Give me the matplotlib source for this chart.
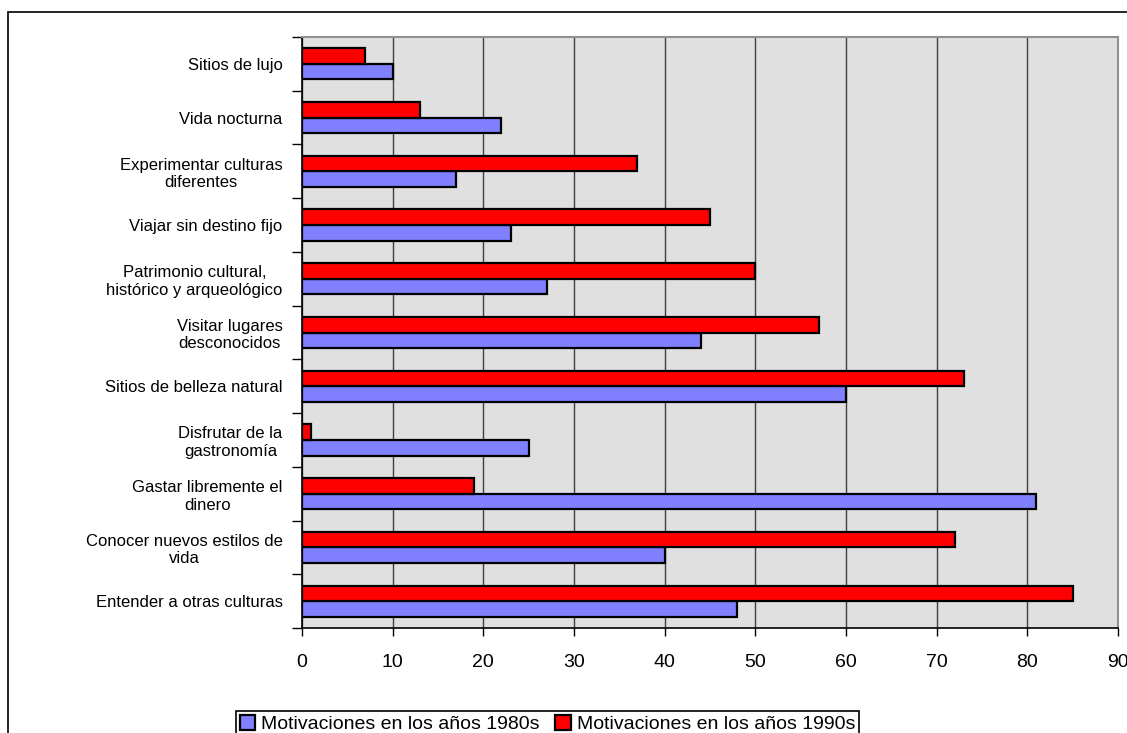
import numpy as np
import matplotlib
matplotlib.use('Agg')
import matplotlib.pyplot as plt
from matplotlib.patches import Rectangle

# categories listed bottom to top
categorias = [
    'Entender a otras culturas',
    'Conocer nuevos estilos de\nvida',
    'Gastar libremente el\ndinero',
    'Disfrutar de la\ngastronomía',
    'Sitios de belleza natural',
    'Visitar lugares\ndesconocidos',
    'Patrimonio cultural,\nhistórico y arqueológico',
    'Viajar sin destino fijo',
    'Experimentar culturas\ndiferentes',
    'Vida nocturna',
    'Sitios de lujo',
]
anos_1980 = [48, 40, 81, 25, 60, 44, 27, 23, 17, 22, 10]
anos_1990 = [85, 72, 19, 1, 73, 57, 50, 45, 37, 13, 7]
xticks = [0, 10, 20, 30, 40, 50, 60, 70, 80, 90]

plt.rcParams['font.family'] = ['Liberation Sans', 'DejaVu Sans']

W, H = 1127, 733
fig = plt.figure(figsize=(W / 100, H / 100), dpi=100)
ax = fig.add_axes([302 / W, 1 - 628 / H, 816 / W, 591 / H])

# outer chart frame, running off the right and bottom edges
fig.patches.append(Rectangle((8 / W, -0.1), 1.2, 1 - 12 / H + 0.1,
                             transform=fig.transFigure, fill=False,
                             edgecolor='black', linewidth=1.2))

y = np.arange(len(categorias))
h = 0.29
ax.barh(y - h / 2, anos_1980, height=h, color='#8080FF', edgecolor='black',
        linewidth=1.6, label='Motivaciones en los años 1980s', zorder=3)
ax.barh(y + h / 2, anos_1990, height=h, color='#FF0000', edgecolor='black',
        linewidth=1.6, label='Motivaciones en los años 1990s', zorder=3)

ax.set_facecolor('#E0E0E0')
ax.set_xlim(0, 90)
ax.set_ylim(-0.5, len(categorias) - 0.5)
ax.set_xticks(xticks)
ax.set_xticklabels([str(t) for t in xticks], fontsize=14)
ax.grid(axis='x', color='#404040', linewidth=1.0, zorder=1)

ax.set_yticks(y)
ax.set_yticklabels(categorias, fontsize=12)
for lbl in ax.get_yticklabels():
    lbl.set_multialignment('center')
ax.set_yticks(np.arange(len(categorias) + 1) - 0.5, minor=True)
ax.tick_params(axis='y', which='major', length=0, pad=14)
ax.tick_params(axis='y', which='minor', length=7, width=1, color='black')
ax.tick_params(axis='x', length=6, width=1, pad=13, direction='out')

for side in ('top', 'right'):
    ax.spines[side].set_color('#909090')
    ax.spines[side].set_linewidth(1.5)
for side in ('left', 'bottom'):
    ax.spines[side].set_color('black')
    ax.spines[side].set_linewidth(1.2)

leg = fig.legend(loc='lower left', bbox_to_anchor=(236 / W, -4 / H), ncol=2,
                 fontsize=14, frameon=True, fancybox=False, edgecolor='black',
                 framealpha=1, handlelength=0.8, handleheight=0.8,
                 handletextpad=0.3, columnspacing=0.8, borderpad=0.2,
                 borderaxespad=0)
leg.get_frame().set_linewidth(1.2)

fig.savefig('out.png', dpi=100)
